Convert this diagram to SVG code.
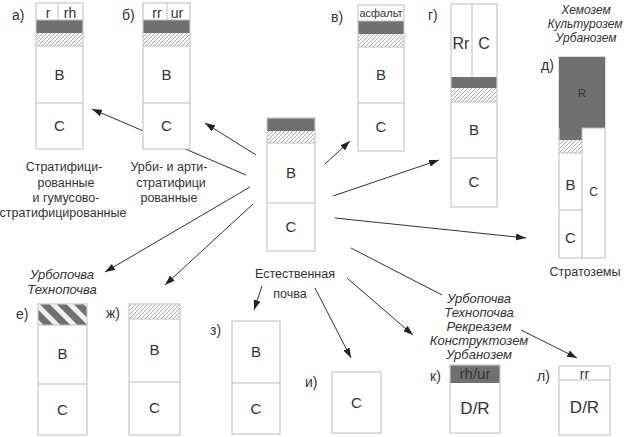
<svg xmlns="http://www.w3.org/2000/svg" width="624" height="437" viewBox="0 0 624 437">
<style>
.box{fill:#fff;stroke:#bdbdbd;stroke-width:1}
.ln{stroke:#bdbdbd;stroke-width:1;fill:none}
.dark{fill:#707070}
.hatch{fill:url(#hatch)}
.str{fill:url(#stripes)}
.t{font-family:"Liberation Sans",Arial,sans-serif;fill:#333;text-anchor:middle}
.b{font-size:15px}
.s{font-size:14px}
.l{font-family:"Liberation Sans",Arial,sans-serif;fill:#333;font-size:14px}
.cap{font-size:12.5px}
.it{font-style:italic;font-size:13px}
.con{stroke:#333;stroke-width:1;fill:none}
.arr{marker-end:url(#ah)}
</style>
<defs>
<pattern id="hatch" patternUnits="userSpaceOnUse" width="4" height="4">
<path d="M-1,1 l2,-2 M0,4 l4,-4 M3,5 l2,-2" stroke="#a8a8a8" stroke-width="1"/>
</pattern>
<pattern id="stripes" patternUnits="userSpaceOnUse" width="12" height="12" patternTransform="rotate(-45)">
<rect width="12" height="12" fill="#707070"/>
<rect x="0" y="0" width="5" height="12" fill="#f0f0f0"/>
</pattern>
<marker id="ah" markerUnits="userSpaceOnUse" markerWidth="10" markerHeight="7" refX="10" refY="3.5" orient="auto">
<path d="M0,0 L10,3.5 L0,7 z" fill="#222"/>
</marker>
</defs>
<rect width="624" height="437" fill="#fff"/>

<g id="connectors">
<line class="con arr" x1="246" y1="175" x2="92" y2="109"/>
<line class="con arr" x1="256" y1="155" x2="205" y2="123"/>
<line class="con arr" x1="325" y1="164" x2="350" y2="141"/>
<line class="con arr" x1="333" y1="196" x2="439" y2="160"/>
<line class="con arr" x1="335" y1="218" x2="526" y2="238"/>
<line class="con arr" x1="250" y1="187" x2="105" y2="272"/>
<line class="con arr" x1="253" y1="204" x2="165" y2="285"/>
<line class="con arr" x1="262" y1="286" x2="254" y2="310"/>
<line class="con arr" x1="315" y1="288" x2="351" y2="358"/>
<line class="con arr" x1="347" y1="278" x2="413" y2="335"/>
<line class="con" x1="351" y1="248" x2="442" y2="295"/>
<line class="con arr" x1="521" y1="330" x2="577" y2="358"/>
</g>

<g id="node-a">
<rect class="box" x="36" y="3" width="47" height="146"/>
<rect class="dark" x="36.5" y="20" width="46" height="13"/>
<rect class="hatch" x="36.5" y="33" width="46" height="13"/>
<path class="ln" d="M36,20H83M58,3V20M36,46H83M36,103H83"/>
<text class="t s" x="48" y="18">r</text>
<text class="t s" x="70" y="18">rh</text>
<text class="t b" x="59.5" y="80">B</text>
<text class="t b" x="59.5" y="131">C</text>
<text class="l" x="12" y="20">а)</text>
<text class="t cap" x="64" y="171">Стратифици-</text>
<text class="t cap" x="66" y="187">рованные</text>
<text class="t cap" x="66" y="202">и гумусово-</text>
<text class="t cap" x="63" y="217">стратифицированные</text>
</g>

<g id="node-b">
<rect class="box" x="143" y="3" width="47" height="146"/>
<rect class="dark" x="143.5" y="20" width="46" height="13"/>
<rect class="hatch" x="143.5" y="33" width="46" height="13"/>
<path class="ln" d="M143,20H190M167,3V20M143,46H190M143,103H190"/>
<text class="t s" x="157" y="18">rr</text>
<text class="t s" x="177" y="18">ur</text>
<text class="t b" x="166.5" y="80">B</text>
<text class="t b" x="166.5" y="131">C</text>
<text class="l" x="122" y="20">б)</text>
<text class="t cap" x="169" y="171">Урби- и арти-</text>
<text class="t cap" x="171" y="187">стратифици</text>
<text class="t cap" x="169" y="202">рованные</text>
</g>

<g id="node-center">
<rect class="box" x="267" y="118" width="48" height="133"/>
<rect class="dark" x="267.5" y="118.5" width="47" height="12.5"/>
<rect class="hatch" x="267.5" y="131" width="47" height="12"/>
<path class="ln" d="M267,143H315M267,203H315"/>
<text class="t b" x="291" y="178">B</text>
<text class="t b" x="291" y="232">C</text>
<text class="t cap" x="295" y="278">Естественная</text>
<text class="t cap" x="290" y="298">почва</text>
</g>

<g id="node-v">
<rect class="box" x="358" y="5" width="46" height="146"/>
<rect class="dark" x="358.5" y="21" width="45" height="13"/>
<rect class="hatch" x="358.5" y="34" width="45" height="13"/>
<path class="ln" d="M358,21H404M358,47H404M358,103H404"/>
<text class="t" style="font-size:11px" x="381" y="17">асфальт</text>
<text class="t b" x="381" y="80">B</text>
<text class="t b" x="381" y="132">C</text>
<text class="l" x="331" y="22">в)</text>
</g>

<g id="node-g">
<rect class="box" x="451" y="4" width="46" height="203"/>
<rect class="dark" x="451.5" y="77" width="45" height="11"/>
<rect class="hatch" x="451.5" y="88" width="45" height="14"/>
<path class="ln" d="M472,4V77M451,102H497M451,158H497"/>
<text class="t" style="font-size:16px" x="461" y="49">Rr</text>
<text class="t" style="font-size:16px" x="484" y="49">C</text>
<text class="t b" x="474" y="135">B</text>
<text class="t b" x="474" y="187">C</text>
<text class="l" x="428" y="20">г)</text>
</g>

<g id="node-d">
<rect class="box" x="559" y="57" width="46" height="201"/>
<rect class="dark" x="559" y="57" width="46" height="71"/>
<rect class="dark" x="559.5" y="128" width="22.5" height="12"/>
<rect class="hatch" x="559.5" y="140" width="22.5" height="13"/>
<path class="ln" d="M582,128V258M582,128H605M559,153H582M559,210H582"/>
<text class="t" style="font-size:11px" x="582" y="97">R</text>
<text class="t b" x="570.5" y="190">B</text>
<text class="t b" x="570.5" y="243">C</text>
<text class="t" style="font-size:12px" x="593.5" y="196">C</text>
<text class="l" x="541" y="70">д)</text>
<text class="t it" style="font-size:12px" x="586" y="14">Хемозем</text>
<text class="t it" style="font-size:12px" x="585" y="28">Культурозем</text>
<text class="t it" style="font-size:12px" x="586" y="42">Урбанозем</text>
<text class="t cap" x="585" y="276">Стратоземы</text>
</g>

<g id="node-e">
<rect class="box" x="38" y="304" width="49" height="131"/>
<rect class="str" x="38.5" y="304.5" width="48" height="20.5"/>
<path class="ln" d="M38,325H87M38,384H87"/>
<text class="t b" x="62.5" y="359">B</text>
<text class="t b" x="62.5" y="415">C</text>
<text class="l" x="16" y="319">е)</text>
<text class="t it" x="62" y="279">Урбопочва</text>
<text class="t it" x="62" y="294">Технопочва</text>
</g>

<g id="node-zh">
<rect class="box" x="129" y="304" width="51" height="131"/>
<rect class="hatch" x="129.5" y="304.5" width="50" height="14.5"/>
<path class="ln" d="M129,319H180M129,382H180"/>
<text class="t b" x="154.5" y="355">B</text>
<text class="t b" x="154.5" y="413">C</text>
<text class="l" x="106" y="318">ж)</text>
</g>

<g id="node-z">
<rect class="box" x="232" y="321" width="48" height="113"/>
<path class="ln" d="M232,383H280"/>
<text class="t b" x="256" y="357">B</text>
<text class="t b" x="256" y="414">C</text>
<text class="l" x="210" y="335">з)</text>
</g>

<g id="node-i">
<rect class="box" x="332" y="372" width="49" height="61"/>
<text class="t b" x="356.5" y="408">C</text>
<text class="l" x="305" y="387">и)</text>
</g>

<g id="node-k">
<rect class="box" x="450" y="365" width="50" height="68"/>
<rect class="dark" x="450.5" y="365.5" width="49" height="17.5"/>
<text class="t" style="font-size:15px" x="475" y="379">rh/ur</text>
<text class="t" style="font-size:17px" x="475" y="414">D/R</text>
<text class="l" x="430" y="381">к)</text>
</g>

<g id="node-l">
<rect class="box" x="559" y="366" width="51" height="69"/>
<path class="ln" d="M559,380H610"/>
<text class="t s" x="584.5" y="379">rr</text>
<text class="t" style="font-size:17px" x="584.5" y="413">D/R</text>
<text class="l" x="537" y="381">л)</text>
</g>

<g id="label-right">
<text class="t it" x="479" y="303">Урбопочва</text>
<text class="t it" x="479" y="317">Технопочва</text>
<text class="t it" x="479" y="331">Рекреазем</text>
<text class="t it" x="479" y="345">Конструктозем</text>
<text class="t it" x="479" y="359">Урбанозем</text>
</g>
</svg>
